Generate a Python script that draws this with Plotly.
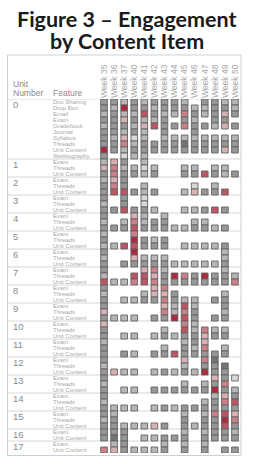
import plotly.graph_objects as go

# ---------------- data ----------------
weeks = ["Week 35", "Week 36", "Week 37", "Week 40", "Week 41", "Week 42", "Week 43",
         "Week 44", "Week 45", "Week 46", "Week 47", "Week 48", "Week 49", "Week 50"]

unit_numbers = list(range(18))
features_unit0 = ["Doc Sharing", "Drop Box", "Email", "Exam", "Gradebook", "Journal",
                  "Syllabus", "Threads", "Unit Content", "Webliography"]
features_std = ["Exam", "Threads", "Unit Content"]
features_short = ["Exam", "Unit Content"]
features_by_unit = [features_unit0] + [features_std] * 15 + [features_short] * 2

N = None
# engagement index per (unit, feature) row and week; None = no activity
# negative = grey (low), positive = red (high)
engagement = [
    # unit 0
    [-2, -2, -1, -2, -1, -2, -2, -2, -1, N, -2, -2, -1, -1],
    [-2, -1, 4, -2, -2, -1, -2, -2, -2, -1, -1, -2, -2, -1],
    [-1, -2, -1, -1, 3, -2, -1, -1, 2, -2, -1, -2, 1, -2],
    [-2, -2, 1, -2, -1, -1, -2, N, -2, -1, N, -2, -2, N],
    [-1, -2, -2, -1, 1, 3, -2, -2, 2, -2, -2, -1, 1, -2],
    [-2, -2, -1, -2, -1, N, -2, N, N, -2, N, N, N, N],
    [-2, -1, 1, 0, -1, N, -1, -1, -1, -1, -1, -1, -1, -1],
    [-2, -2, 2, -1, -2, -2, -2, -2, -3, -2, -2, -2, -2, -2],
    [4, -2, -1, -2, -2, -2, -2, -2, -2, -2, -2, -2, 1, -2],
    [-2, N, 0, -1, -1, N, N, N, N, N, N, N, N, N],
    # unit 1
    [-1, 1, -2, N, -1, N, N, N, N, N, N, N, N, N],
    [1, 2, -1, -1, 0, -1, N, N, -1, -1, N, -1, -1, N],
    [-2, 2, -2, -2, -1, -2, N, N, -2, -2, 3, -2, -1, -2],
    # unit 2
    [-1, 1, -2, N, N, N, N, N, N, N, N, N, N, N],
    [-2, 2, -2, N, -1, N, N, N, N, 0, N, -1, N, N],
    [-2, 3, 3, -2, -1, -2, N, N, -1, 1, -2, -2, 3, N],
    # unit 3
    [-2, N, -2, N, 0, N, N, N, N, N, N, N, N, N],
    [-1, N, -2, N, 0, N, N, N, N, N, N, N, N, N],
    [-2, -2, 3, -2, -2, -1, N, N, -1, -1, -2, 3, -2, N],
    # unit 4
    [-2, N, N, 1, -1, N, -1, N, N, N, N, N, N, N],
    [-1, N, -1, 2, -1, -2, -2, N, N, -1, -1, N, N, N],
    [-2, -2, -2, 3, -2, -2, -2, -1, -1, -2, -2, -1, -2, N],
    # unit 5
    [-1, N, N, 2, N, N, N, N, N, N, N, N, N, N],
    [-2, N, N, 4, -2, -1, -2, N, N, N, N, N, N, N],
    [-1, -1, 3, 3, -2, -2, -2, N, -1, -1, -1, -1, -2, N],
    # unit 6
    [-2, N, N, 4, N, N, N, N, N, N, N, N, -1, N],
    [-1, N, N, 1, -1, -1, -1, N, N, N, N, N, -1, N],
    [-2, N, -2, -2, -2, -2, -2, -1, -1, -1, -1, -1, -2, N],
    # unit 7
    [-2, N, N, N, 1, 2, -1, N, N, N, N, N, -1, N],
    [-1, N, N, 3, 3, 1, -2, 4, 2, -2, 4, -2, -2, -1],
    [3, -1, -1, 2, 3, 2, -2, -2, -2, -2, -2, -2, -2, 2],
    # unit 8
    [-2, N, N, N, N, 1, 2, N, N, N, N, N, N, N],
    [-1, N, N, N, -1, 1, 1, -2, N, N, N, N, -1, N],
    [-2, N, -1, -1, -2, -2, 2, -2, -1, -1, N, -2, -2, N],
    # unit 9
    [-2, N, N, N, N, N, 1, -1, 3, -1, N, N, -2, N],
    [1, N, N, N, N, N, 2, -1, 2, -2, N, N, -1, N],
    [-2, -1, -1, -1, N, -2, -2, 4, 3, -2, N, -2, -2, N],
    # unit 10
    [1, N, N, N, N, N, N, N, 2, -1, N, N, N, N],
    [-2, N, N, N, N, N, -1, N, 3, -1, 2, -1, -1, N],
    [-2, N, -1, -1, N, -1, -2, -1, -2, -2, 1, -2, -2, N],
    # unit 11
    [-1, N, N, N, N, N, N, N, -1, -2, 1, N, N, N],
    [-2, N, N, N, N, N, -1, N, -2, -1, 2, N, -1, N],
    [-2, N, -2, -1, N, -2, -2, 3, -2, -2, -2, -2, -2, N],
    # unit 12
    [-2, N, N, N, N, N, N, N, 1, N, 2, -3, N, N],
    [-1, N, N, N, N, N, N, N, -1, N, -2, -2, -3, N],
    [-2, 1, -1, -1, N, -1, -2, -1, -2, -1, 4, -2, -2, N],
    # unit 13
    [-2, N, N, N, N, N, N, N, N, N, N, 1, -2, 0],
    [-1, N, N, N, N, N, N, N, -1, N, -1, -2, 2, N],
    [-2, N, -1, -1, N, -2, -2, -2, -2, -2, -2, 4, -2, -1],
    # unit 14
    [-2, N, N, N, N, N, N, N, N, N, N, -1, 1, -2],
    [-1, N, N, N, N, N, N, N, N, N, -1, -2, 2, 3],
    [-2, -1, -1, -1, N, -1, -2, -1, -2, -2, -2, -2, -2, -2],
    # unit 15
    [-2, -1, N, N, N, N, N, N, -1, N, -1, 2, 3, 1],
    [-1, -2, N, N, N, N, N, N, -2, N, -2, -2, 4, 2],
    [-2, -2, -1, -1, -1, 1, -2, N, -2, -1, -2, -2, 3, -2],
    # unit 16
    [-2, -2, -2, N, N, N, N, N, -1, N, -1, -2, -2, -1],
    [-2, -3, -2, N, -1, -1, -2, -2, -2, N, -2, -2, -2, -2],
    # unit 17
    [N, -1, -2, N, N, N, -1, N, -1, N, -1, N, N, N],
    [2, 1, -2, -1, -1, -1, -2, N, -2, N, -2, N, -2, -2],
]

# ---------------- build ----------------
W, H = 253, 464
L, R, T, B = 99, 13, 99, 11
PW, PH = W - L - R, H - T - B


def px_x(px):
    return (px - L) / PW


def px_y(py):
    return (H - B - py) / PH


rows = [(u, f) for u, feats in zip(unit_numbers, features_by_unit) for f in feats]
n_rows = len(rows)

xs, bases, colors = [], [], []
for i, vals in enumerate(engagement):
    for c, v in enumerate(vals):
        if v is not None:
            xs.append(c)
            bases.append(i - 0.5)
            colors.append(v)

colorscale = [
    [0.0, "#747474"],
    [1 / 7, "#979797"],
    [2 / 7, "#b6b6b6"],
    [3 / 7, "#d8d8d8"],
    [4 / 7, "#d9b1b5"],
    [5 / 7, "#cc8089"],
    [6 / 7, "#bf5465"],
    [1.0, "#b0283d"],
]

fig = go.Figure()
fig.add_trace(go.Bar(
    x=xs, y=[1] * len(xs), base=bases, width=0.66,
    marker=dict(color=colors, colorscale=colorscale, cmin=-3, cmax=4,
                line=dict(color="#626262", width=0.9)),
    showlegend=False, hoverinfo="skip",
))

shapes = []
x_left, x_right = px_x(7.5), px_x(241)
# header line + unit separators
bounds = [-0.5]
acc = 0
for feats in features_by_unit:
    acc += len(feats)
    bounds.append(acc - 0.5)
for b in bounds[:-1]:
    shapes.append(dict(type="line", xref="paper", yref="y", x0=x_left, x1=x_right,
                       y0=b, y1=b, line=dict(color="#d6d6d6", width=1), layer="below"))
# outer panel
shapes.append(dict(type="rect", xref="paper", yref="paper", x0=x_left, x1=x_right,
                   y0=px_y(455.5), y1=px_y(55), line=dict(color="#c9d0d7", width=1),
                   layer="below"))

annotations = []
title_font = dict(family="Lato, 'Open Sans', sans-serif", size=21.5, color="#1a1a1a")
annotations.append(dict(text="<b>Figure 3 – Engagement</b>", xref="paper", yref="paper",
                        x=px_x(126.5), y=px_y(19.5), xanchor="center", yanchor="middle",
                        showarrow=False, font=title_font))
annotations.append(dict(text="<b>by Content Item</b>", xref="paper", yref="paper",
                        x=px_x(126.5), y=px_y(41.5), xanchor="center", yanchor="middle",
                        showarrow=False, font=title_font))

hdr_font = dict(family="Liberation Sans, Arial, sans-serif", size=8.5, color="#8a8a8a")
for txt, px, py in [("Unit", 10.5, 84.5), ("Number", 10.5, 93), ("Feature", 51, 93)]:
    annotations.append(dict(text=txt, xref="paper", yref="paper", x=px_x(px), y=px_y(py),
                            xanchor="left", yanchor="middle", showarrow=False, font=hdr_font))

unit_font = dict(family="Liberation Sans, Arial, sans-serif", size=9.5, color="#8a8a8a")
feat_font = dict(family="'Liberation Sans Narrow', 'Arial Narrow', sans-serif", size=6,
                 color="#a8a8a8")
start = 0
for u, feats in zip(unit_numbers, features_by_unit):
    annotations.append(dict(text=str(u), xref="paper", yref="y", x=px_x(10.5), y=start,
                            xanchor="left", yanchor="middle", yshift=-2.5,
                            showarrow=False, font=unit_font))
    start += len(feats)
for i, (u, f) in enumerate(rows):
    annotations.append(dict(text=f, xref="paper", yref="y", x=px_x(51), y=i,
                            xanchor="left", yanchor="middle", showarrow=False,
                            font=feat_font))

fig.update_layout(
    width=W, height=H,
    margin=dict(l=L, r=R, t=T, b=B, pad=0),
    paper_bgcolor="white", plot_bgcolor="white",
    barmode="overlay",
    shapes=shapes, annotations=annotations,
    xaxis=dict(range=[-0.5, len(weeks) - 0.5], tickmode="array",
               tickvals=list(range(len(weeks))), ticktext=weeks, side="top",
               tickangle=-90, showgrid=False, zeroline=False, showline=False, ticks="",
               tickfont=dict(family="Liberation Sans, Arial, sans-serif", size=8.5,
                             color="#a5a5a5")),
    yaxis=dict(range=[n_rows - 0.5, -0.5], showticklabels=False, showgrid=False,
               zeroline=False, showline=False, ticks=""),
)

fig.write_html("out.html")
